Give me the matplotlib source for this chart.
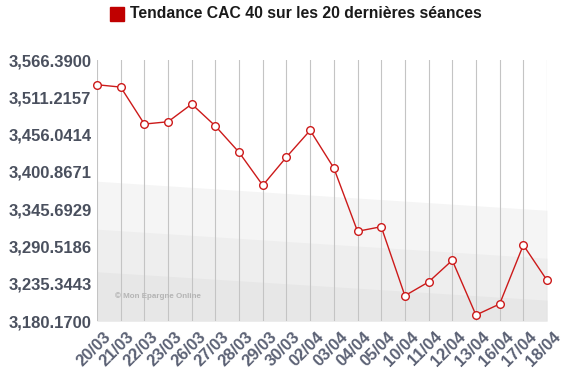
import matplotlib

matplotlib.use("Agg")
import matplotlib.pyplot as plt
import matplotlib.transforms as mtransforms
from matplotlib.patches import Rectangle

# Donnees
seances = ["20/03", "21/03", "22/03", "23/03", "26/03", "27/03", "28/03", "29/03",
           "30/03", "02/04", "03/04", "04/04", "05/04", "10/04", "11/04", "12/04",
           "13/04", "16/04", "17/04", "18/04"]
cac40 = [3529.8, 3526.3, 3471.6, 3475.0, 3501.2, 3468.6, 3429.7, 3380.9,
         3422.8, 3462.3, 3406.5, 3312.9, 3319.7, 3217.6, 3237.9, 3270.0,
         3189.0, 3205.3, 3292.6, 3240.4]
graduations = [3180.17, 3235.3443, 3290.5186, 3345.6929, 3400.8671,
               3456.0414, 3511.2157, 3566.39]

# bandes de fond (bord gauche, bord droit)
bandes_haut = [(3387, 3344), (3316, 3273), (3253, 3211)]
couleurs_bandes = ["#f5f5f5", "#eeeeee", "#e7e7e7"]

fig = plt.figure(figsize=(5.63, 3.79), dpi=100)
ax = fig.add_axes([97 / 563, 58 / 379, 450 / 563, 261 / 379])

n = len(seances)
x = list(range(n))
ymin, ymax = graduations[0], graduations[-1]

for (g, d), c in zip(bandes_haut, couleurs_bandes):
    haut = [g + (d - g) * i / (n - 1) for i in x]
    ax.fill_between(x, ymin, haut, color=c, lw=0, zorder=0)

for i in x:
    ax.axvline(i, color="#c4c4c4", lw=0.8, zorder=1)

ax.plot(x, cac40, color="#cc1a1a", lw=1.0, marker="o", markersize=5.5,
        markerfacecolor="white", markeredgecolor="#cc1a1a", markeredgewidth=1.0,
        clip_on=False, zorder=3)

ax.set_xlim(0, n - 1)
ax.set_ylim(ymin, ymax)
for s in ax.spines.values():
    s.set_visible(False)

ax.set_yticks(graduations)
ax.set_yticklabels([f"{v:,.4f}" for v in graduations])
ax.set_xticks(x)
ax.set_xticklabels(seances)
ax.tick_params(length=0)
ax.tick_params(axis="y", pad=4)
for t in ax.get_yticklabels():
    t.set_fontfamily("Liberation Sans")
    t.set_fontweight("bold")
    t.set_fontsize(12)
    t.set_color("#4a505e")
decal = mtransforms.ScaledTranslation(6 / 100, -3 / 100, fig.dpi_scale_trans)
for t in ax.get_xticklabels():
    t.set_fontfamily("Liberation Sans")
    t.set_fontweight("bold")
    t.set_fontsize(12)
    t.set_color("#5b6174")
    t.set_rotation(45)
    t.set_ha("right")
    t.set_va("top")
    t.set_rotation_mode("anchor")
    t.set_transform(t.get_transform() + decal)

ax.text(0.04, 0.09, "\u00a9 Mon Epargne Online", transform=ax.transAxes,
        fontsize=5.8, fontweight="bold", color="#b4b4b4",
        fontfamily="Liberation Sans", zorder=2)

# titre avec carre rouge
fig.patches.append(Rectangle((110 / 563, 1 - 21 / 379), 14 / 563, 14 / 379,
                             transform=fig.transFigure, color="#c00000"))
fig.text(130 / 563, 1 - 14 / 379, "Tendance CAC 40 sur les 20 dernières séances",
         fontsize=11.3, fontweight="bold", color="#1a1a1a",
         fontfamily="Liberation Sans", va="center", ha="left")

fig.savefig("out.png", dpi=100)
